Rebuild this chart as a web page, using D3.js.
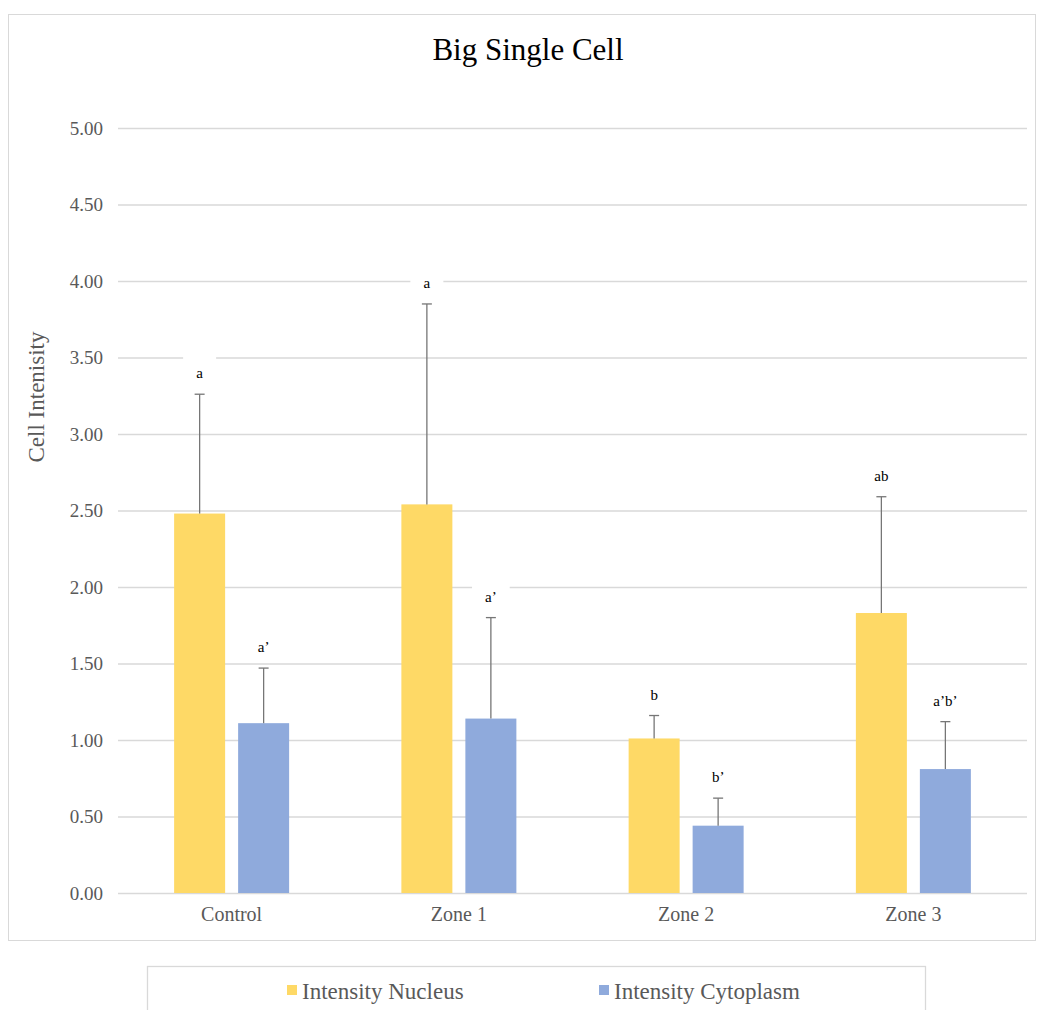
<!DOCTYPE html>
<html>
<head>
<meta charset="utf-8">
<script src="https://cdn.jsdelivr.net/npm/d3@7"></script>
<style>
  html, body { margin: 0; padding: 0; background: #fff; }
  svg { display: block; }
  text { font-family: "Liberation Serif", "Times New Roman", serif; }
</style>
</head>
<body>
<script>
// Mean intensity per zone, with upper error (mean + SD) and significance letters
const categories = ["Control", "Zone 1", "Zone 2", "Zone 3"];
const seriesNames = ["Intensity Nucleus", "Intensity Cytoplasm"];
const nucleusMean = [2.48, 2.54, 1.01, 1.83];
const nucleusUpper = [3.26, 3.85, 1.16, 2.59];
const cytoplasmMean = [1.11, 1.14, 0.44, 0.81];
const cytoplasmUpper = [1.47, 1.80, 0.62, 1.12];
const nucleusLetters = ["a", "a", "b", "ab"];
const cytoplasmLetters = ["a\u2019", "a\u2019", "b\u2019", "a\u2019b\u2019"];
const yTicks = [0, 0.5, 1, 1.5, 2, 2.5, 3, 3.5, 4, 4.5, 5];

const colors = ["#FED966", "#8FAADC"];
const W = 1038, H = 1010;
const plot = { left: 118, right: 1027, top: 128, bottom: 893 };

const svg = d3.select("body").append("svg").attr("width", W).attr("height", H);

// chart frame
svg.append("rect").attr("x", 8.5).attr("y", 14.5).attr("width", 1027).attr("height", 926)
  .attr("fill", "#fff").attr("stroke", "#d9d9d9").attr("stroke-width", 1);

// title
svg.append("text").attr("x", 528).attr("y", 60).attr("text-anchor", "middle")
  .attr("font-size", 31).attr("fill", "#000").text("Big Single Cell");

const y = d3.scaleLinear().domain([0, 5]).range([plot.bottom, plot.top]);
const x0 = d3.scaleBand().domain(categories).range([plot.left, plot.right]).paddingInner(0).paddingOuter(0);
const groupW = 115;
const x1 = d3.scaleBand().domain(seriesNames).range([0, groupW]).paddingInner(13 / 64).paddingOuter(0);

// gridlines and tick labels
const yAxis = d3.axisLeft(y).tickValues(yTicks).tickFormat(d3.format(".2f"))
  .tickSize(-(plot.right - plot.left)).tickPadding(15);
const gy = svg.append("g").attr("transform", `translate(${plot.left},0)`).call(yAxis);
gy.select(".domain").remove();
gy.attr("font-family", null);
gy.selectAll(".tick line").attr("stroke", "#d9d9d9").attr("stroke-width", 1.3);
gy.selectAll(".tick text").attr("font-size", 19).attr("fill", "#595959");

// axis title
svg.append("text").attr("transform", "translate(44,397) rotate(-90)")
  .attr("text-anchor", "middle").attr("font-size", 23).attr("fill", "#595959")
  .text("Cell Intenisity");

// category labels
const xAxis = d3.axisBottom(x0).tickSize(0).tickPadding(14);
const gx = svg.append("g").attr("transform", `translate(0,${plot.bottom})`).call(xAxis);
gx.select(".domain").remove();
gx.attr("font-family", null);
gx.selectAll(".tick text").attr("font-size", 20).attr("fill", "#595959");

const rows = categories.map((c, i) => ({
  cat: c,
  vals: [
    { s: seriesNames[0], mean: nucleusMean[i], upper: nucleusUpper[i], letter: nucleusLetters[i], color: colors[0] },
    { s: seriesNames[1], mean: cytoplasmMean[i], upper: cytoplasmUpper[i], letter: cytoplasmLetters[i], color: colors[1] }
  ]
}));

const groups = svg.append("g").selectAll("g").data(rows).join("g")
  .attr("transform", d => `translate(${x0(d.cat) + (x0.bandwidth() - groupW) / 2},0)`);

const bars = groups.selectAll("g.bar").data(d => d.vals).join("g").attr("class", "bar");

bars.append("rect")
  .attr("x", d => x1(d.s)).attr("width", x1.bandwidth())
  .attr("y", d => y(d.mean)).attr("height", d => y(0) - y(d.mean))
  .attr("fill", d => d.color);

// error bars (upper only)
const cx = d => x1(d.s) + x1.bandwidth() / 2;
bars.append("line")
  .attr("x1", cx).attr("x2", cx)
  .attr("y1", d => y(d.mean)).attr("y2", d => y(d.upper))
  .attr("stroke", "#767676").attr("stroke-width", 1.3);
bars.append("line")
  .attr("x1", d => cx(d) - 5).attr("x2", d => cx(d) + 5)
  .attr("y1", d => y(d.upper)).attr("y2", d => y(d.upper))
  .attr("stroke", "#767676").attr("stroke-width", 1.3);

// significance letters on white label boxes
const lab = bars.append("g")
  .attr("transform", d => `translate(${cx(d)},${y(d.upper) - 21})`);
const labBox = lab.append("rect").attr("fill", "#fff");
const labText = lab.append("text").attr("text-anchor", "middle").attr("dy", "0.35em")
  .attr("font-size", 15).attr("fill", "#000").text(d => d.letter);
labText.each(function () {
  const w = this.getBBox().width;
  d3.select(this.previousSibling)
    .attr("x", -(w / 2 + 13)).attr("width", w + 26)
    .attr("y", -22).attr("height", 33);
});

// legend
svg.append("rect").attr("x", 147.5).attr("y", 966.5).attr("width", 778).attr("height", 60)
  .attr("fill", "#fff").attr("stroke", "#d9d9d9").attr("stroke-width", 1.3);
const legendX = [287, 599];
const lg = svg.append("g").selectAll("g").data(seriesNames).join("g")
  .attr("transform", (d, i) => `translate(${legendX[i]},990)`);
lg.append("rect").attr("x", 0).attr("y", -5).attr("width", 10).attr("height", 10)
  .attr("fill", (d, i) => colors[i]);
lg.append("text").attr("x", 15).attr("y", 9).attr("font-size", 23)
  .attr("fill", "#595959").text(d => d);
</script>
</body>
</html>
